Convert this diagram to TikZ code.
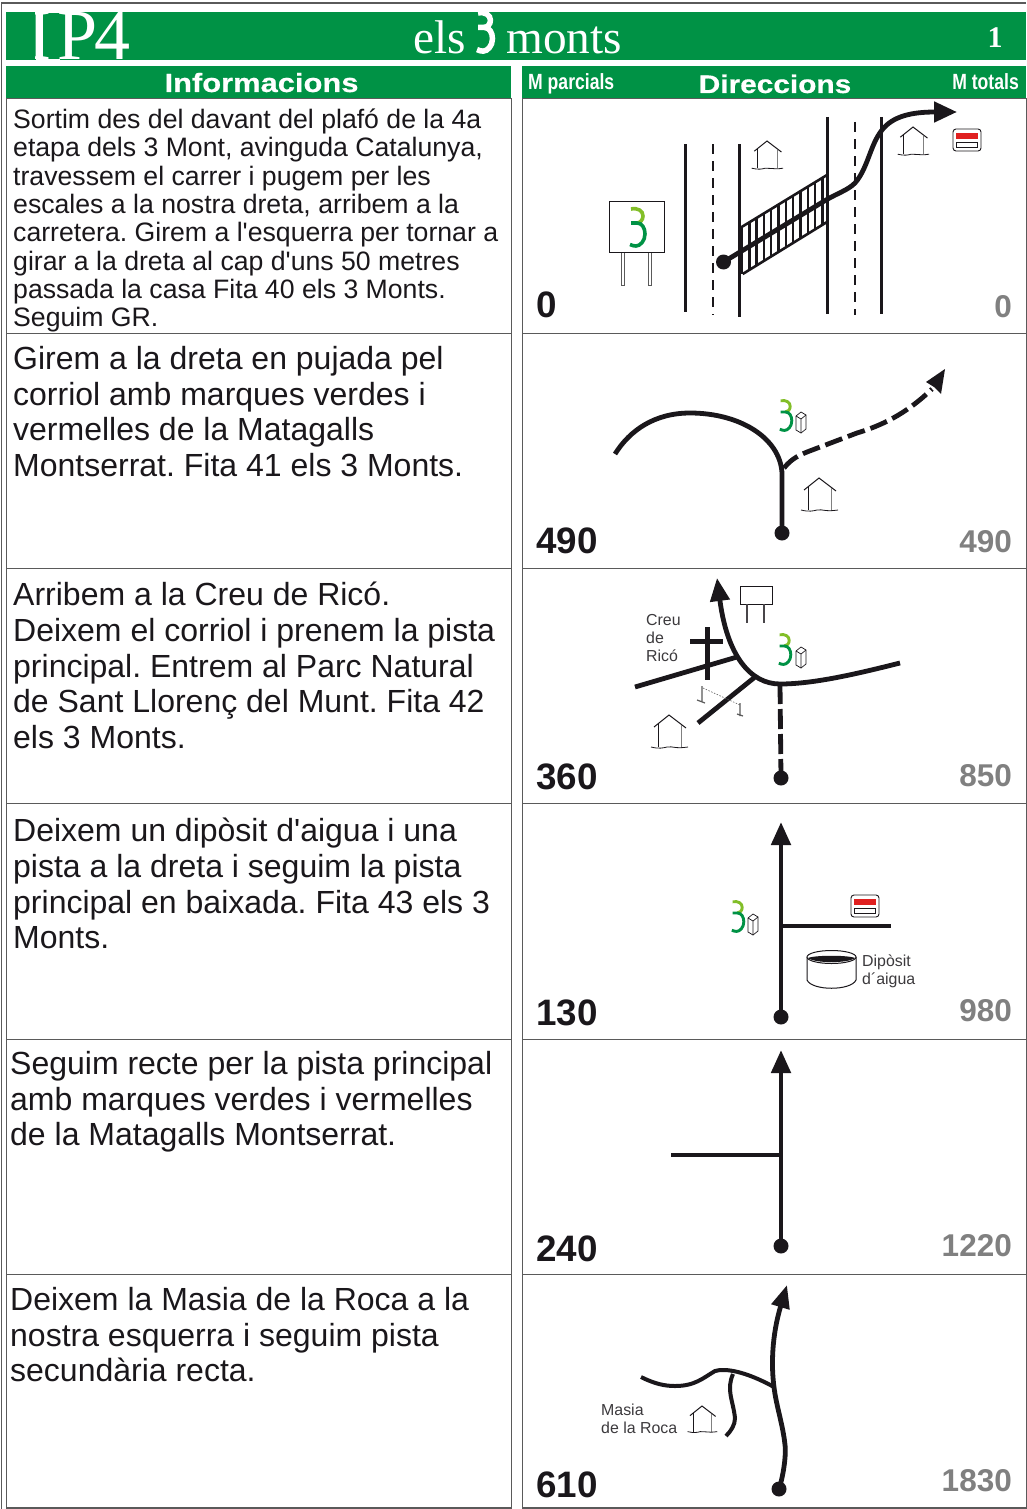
\documentclass[tikz,border=0pt]{standalone}
\usepackage{fontspec}
\usetikzlibrary{arrows.meta}
\setmainfont{Liberation Sans}
\newfontfamily\plainsans{Liberation Sans}
\newfontfamily\titlefont{Liberation Serif}
\newfontfamily\narrowbold[FakeStretch=0.8]{Liberation Sans Bold}
\newfontfamily\widebold[FakeStretch=1.17,FakeBold=0.6]{Liberation Sans Bold}
\newfontfamily\plainbold{Liberation Sans Bold}
\newcommand{\apos}{{\plainsans\char39\relax}}
\frenchspacing
\definecolor{bandgreen}{RGB}{0,146,69}
\definecolor{inkblack}{RGB}{26,23,27}
\definecolor{lightgreen}{RGB}{130,190,40}
\definecolor{markred}{RGB}{224,32,32}
\definecolor{frameg}{RGB}{90,90,90}
\tikzset{
  x=1pt,y=-1pt,
  band/.style={fill=bandgreen,draw=none},
  cell/.style={draw=frameg,line width=0.9pt},
  smalltext/.style={anchor=north west,inner sep=0,align=left,font=\fontsize{26.65}{28.3}\selectfont,text=inkblack},
  bigtext/.style={anchor=north west,inner sep=0,align=left,font=\fontsize{32}{35.7}\selectfont,text=inkblack},
  parcial/.style={anchor=base west,inner sep=0,font=\fontsize{36.8}{36.8}\plainbold,text=inkblack},
  total/.style={anchor=base east,inner sep=0,font=\fontsize{31.5}{31.5}\plainbold,text=black!50},
  head/.style={anchor=base,inner sep=0,font=\fontsize{25.5}{25.5}\widebold,text=white},
  headsmall/.style={anchor=base,inner sep=0,font=\fontsize{22}{22}\narrowbold,text=white},
  tiny/.style={anchor=north west,inner sep=0,align=left,font=\fontsize{15.9}{18}\selectfont,text=inkblack!85},
  road/.style={draw=inkblack,line width=4.8pt},
  thinroad/.style={draw=inkblack,line width=4pt},
  lane/.style={draw=inkblack,line width=3pt},
  dashlane/.style={draw=inkblack,line width=2.8pt,dash pattern=on 10pt off 7pt},
  rail/.style={draw=inkblack,line width=2.6pt},
  arrowroad/.style={road,-{Triangle[length=23pt,width=20pt]}},
  dot/.style={circle,fill=inkblack,draw=none,inner sep=0,minimum size=15pt},
  pics/house/.style={code={
    \draw[inkblack,line width=1pt] (-15,12) -- (0,0) -- (17,13);
    \draw[inkblack,line width=0.9pt] (-11,9) -- (-11,32);
    \draw[black!50,line width=1pt] (12,10) -- (12,32);
    \draw[inkblack,line width=0.8pt] (-18,32) .. controls (-10,34) and (-6,33) .. (-2,32) .. controls (4,31) and (6,34) .. (19,32);
  }},
  pics/marker/.style={code={
    \draw[inkblack,line width=0.9pt,fill=white,rounded corners=3pt] (0,0) rectangle (28,22);
    \fill[markred] (3,4) rectangle (25,10);
    \draw[inkblack,line width=0.8pt,fill=white] (3.5,13) rectangle (24.5,18);
  }},
  pics/fita/.style={code={
    \draw[inkblack,line width=0.7pt,fill=white] (1,5) -- (6,1) -- (11,4) -- (11,18) -- (6,22) -- (1,19) -- cycle;
    \draw[inkblack,line width=0.7pt] (1,5) -- (6,8) -- (11,4) (6,8) -- (6,22);
  }},
  pics/three/.style={code={
    \draw[lightgreen,line width=#1] (2,1) .. controls (9,-0.5) and (14,3) .. (14,8) .. controls (14,12) and (11,15) .. (8,15);
    \draw[bandgreen,line width=#1] (2,15) -- (8,15) .. controls (13,15) and (16,20) .. (16,26) .. controls (16,33) and (11,38) .. (7,38) .. controls (5,38) and (3,37.5) .. (1,36.5);
  }},
  pics/whitethree/.style={code={
    \draw[white,line width=#1] (2,1) .. controls (9,-0.5) and (14,3) .. (14,8) .. controls (14,12) and (11,15) .. (8,15);
    \draw[white,line width=#1] (2,15) -- (8,15) .. controls (13,15) and (16,20) .. (16,26) .. controls (16,33) and (11,38) .. (7,38) .. controls (5,38) and (3,37.5) .. (1,36.5);
  }},
}
\begin{document}
\begin{tikzpicture}
\useasboundingbox (0,0) rectangle (1026,1509);
\fill[white] (0,0) rectangle (1026,1509);
\draw[frameg,line width=1.4pt] (1.5,1509) -- (1.5,3) -- (1026,3);
% bands
\fill[band] (6,12) rectangle (1026,60.5);
\fill[band] (6,66) rectangle (511,98);
\fill[band] (522,66) rectangle (1026,98);
\node[anchor=base west,inner sep=0,font=\fontsize{72}{72}\titlefont,text=white] (ip) at (27.5,60) {I\kern5.5pt P\kern-2.5pt 4};
\fill[band] (6,12) rectangle (35,60.5);
\fill[white] (35.5,12) rectangle (43,60.5);
\fill[white] (43,12) rectangle (60,13.5);
\fill[white] (43,58.7) rectangle (60,60.5);
\node[anchor=base west,inner sep=0,font=\fontsize{47.3}{47}\titlefont,text=white] (els) at (413,54) {els};
\pic[scale=1.03] at (476,12) {whitethree={5.5pt}};
\node[anchor=base west,inner sep=0,font=\fontsize{47.3}{47}\titlefont,text=white] (monts) at (506,54) {monts};
\node[anchor=base,inner sep=0,font=\fontsize{30}{30}\titlefont\bfseries,text=white] (num) at (995,48) {1};
\node[head,font=\fontsize{26.4}{26.4}\widebold] (hinfo) at (261.5,92) {Informacions};
\node[head] (hdir) at (775,93) {Direccions};
\node[headsmall,anchor=base west] (hmp) at (528,90) {M parcials};
\node[headsmall,anchor=base east] (hmt) at (1019,90) {M totals};
% table
\foreach \ya/\yb in {98/333,333/568,568/803,803/1039,1039/1274,1274/1508}{
  \draw[cell] (6,\ya) rectangle (511,\yb);
  \draw[cell] (522.5,\ya) rectangle (1026,\yb);
}
\draw[frameg,line width=1.6pt] (6,1508) -- (511,1508) (522.5,1508) -- (1026,1508);
% texts
\node[smalltext] (t1) at (13,108.7) {Sortim des del davant del plafó de la 4a\\etapa dels 3 Mont, avinguda Catalunya,\\travessem el carrer i pugem per les\\escales a la nostra dreta, arribem a la\\carretera. Girem a l\apos esquerra per tornar a\\girar a la dreta al cap d\apos uns 50 metres\\passada la casa Fita 40 els 3 Monts.\\Seguim GR.};
\node[bigtext] (t2) at (13,346) {Girem a la dreta en pujada pel\\corriol amb marques verdes i\\vermelles de la Matagalls\\Montserrat. Fita 41 els 3 Monts.};
\node[bigtext] (t3) at (13,582) {Arribem a la Creu de Ricó.\\Deixem el corriol i prenem la pista\\principal. Entrem al Parc Natural\\de Sant Llorenç del Munt. Fita 42\\els 3 Monts.};
\node[bigtext] (t4) at (13,818) {Deixem un dipòsit d\apos aigua i una\\pista a la dreta i seguim la pista\\principal en baixada. Fita 43 els 3\\Monts.};
\node[bigtext] (t5) at (10,1051) {Seguim recte per la pista principal\\amb marques verdes i vermelles\\de la Matagalls Montserrat.};
\node[bigtext] (t6) at (10,1287) {Deixem la Masia de la Roca a la\\nostra esquerra i seguim pista\\secundària recta.};
% numbers
\node[parcial] (p1) at (536,317) {0};
\node[parcial] (p2) at (536,553.5) {490};
\node[parcial] (p3) at (536,789.5) {360};
\node[parcial] (p4) at (536,1025.5) {130};
\node[parcial] (p5) at (536,1261.5) {240};
\node[parcial] (p6) at (536,1497.5) {610};
\node[total] (m1) at (1012,317) {0};
\node[total] (m2) at (1012,552) {490};
\node[total] (m3) at (1012,786) {850};
\node[total] (m4) at (1012,1021) {980};
\node[total] (m5) at (1012,1256) {1220};
\node[total] (m6) at (1012,1491) {1830};
% ---------- row 1
\draw[lane] (685,144) -- (685,312);
\draw[dashlane] (713,144) -- (713,315);
\draw[lane] (739.5,144) -- (739.5,317);
\draw[lane] (827,117) -- (827,314);
\draw[dashlane] (855,122) -- (855,315);
\draw[lane] (881.5,117) -- (881.5,314);
\draw[rail] (740,228) -- (827,175);
\draw[rail] (742.7,274) -- (827,222);
\foreach \k in {0,...,11}{
  \pgfmathsetmacro{\xa}{742+\k*7.3}
  \pgfmathsetmacro{\yu}{228-(\xa-740)*0.609}
  \pgfmathsetmacro{\yl}{274-(\xa-742.7)*0.617}
  \draw[inkblack,line width=2.4pt] (\xa,\yu) -- (\xa,\yl);
}
\node[dot] (d1) at (723.5,262) {};
\coordinate (a1) at (957,112);
\draw[arrowroad] (d1.center) -- (826,200) .. controls (838,193) and (848,190) .. (855,183) .. controls (868,168) and (870,145) .. (882,130) .. controls (893,116) and (912,112) .. (a1);
\pic[scale=0.85] at (767,141) {house};
\pic[scale=0.85] at (913,127) {house};
\pic at (953,129) {marker};
\draw[inkblack,line width=1pt,fill=white] (609,201.5) rectangle (664.5,252.5);
\draw[frameg,line width=0.8pt] (621,253) -- (621,285) -- (624,285) -- (624,253);
\draw[frameg,line width=0.8pt] (648,253) -- (648,285) -- (651.5,285) -- (651.5,253);
\pic at (629,208) {three={3.6pt}};
% ---------- row 2
\node[dot] (d2) at (782,533) {};
\coordinate (e2) at (615,454);
\draw[road] (d2.center) -- (782,473) .. controls (780,438) and (740,413) .. (690,413) .. controls (655,413) and (630,430) .. (e2);
\coordinate (s2) at (784,468);
\coordinate (a2) at (945,369);
\draw[road,dash pattern=on 18pt off 6pt] (s2) .. controls (792,458) and (800,455) .. (807,452) -- (857,433) .. controls (880,426) and (905,415) .. (932,389);
\fill[inkblack] (a2) -- (941,394) -- (934,387) -- (926,382) -- cycle;
\pic[scale=0.8] at (779,400) {three={2.9pt}};
\pic at (795,411) {fita};
\pic at (819,478) {house};
% ---------- row 3
\node[dot] (d3) at (781,778) {};
\coordinate (a3) at (717,578);
\coordinate (e3) at (900,663);
\coordinate (j3a) at (737,657);
\coordinate (j3b) at (755,677);
\coordinate (j3c) at (780,684);
\draw[road,-{Triangle[length=23pt,width=19pt]}] (e3) .. controls (860,673) and (815,684) .. (j3c) .. controls (750,684) and (727,655) .. (a3);
\draw[road] (635,687) -- (j3a);
\draw[road] (698,723) -- (j3b);
\draw[road,dash pattern=on 20pt off 5pt] (j3c) -- (d3.center);
\draw[inkblack,line width=5pt] (707,627) -- (707,680);
\draw[inkblack,line width=5pt] (690,641) -- (723,641);
\node[tiny] (creu) at (646,614) {Creu\\de\\Ricó};
\draw[inkblack,line width=1pt,fill=white] (740,586) rectangle (772,604);
\draw[inkblack!80,line width=1.5pt] (747,604) -- (747,623);
\draw[inkblack!80,line width=1.5pt] (764,604) -- (764,623);
\pic[scale=0.8] at (778,634) {three={2.9pt}};
\pic at (795,646) {fita};
\draw[frameg,line width=0.6pt,dash pattern=on 1.5pt off 1.5pt] (703,688) -- (740,705);
\draw[frameg,line width=1.2pt] (702,686) -- (702,702) (697,700) -- (705,703);
\draw[frameg,line width=1.2pt] (740,703) -- (740,716) (737,714) -- (743,716);
\pic at (669,715) {house};
% ---------- row 4
\node[dot] (d4) at (781,1017) {};
\coordinate (a4) at (781,822);
\draw[road,-{Triangle[length=23pt,width=19pt]}] (d4.center) -- (a4);
\coordinate (b4) at (783,926);
\coordinate (e4) at (891,926);
\draw[road] (b4) -- (e4);
\pic[scale=0.8] at (731,901) {three={2.9pt}};
\pic at (747,913) {fita};
\pic at (851,895) {marker};
\draw[inkblack,line width=1pt,fill=white] (807,957) -- (807,980) .. controls (812,991) and (851,991) .. (856,980) -- (856,957);
\draw[inkblack,line width=1pt,fill=white] (831.5,957) ellipse [x radius=24.5,y radius=6.5];
\fill[inkblack] (808,958) .. controls (815,955) and (848,955) .. (855,958) .. controls (848,963.5) and (815,963.5) .. (808,958) -- cycle;
\node[tiny] (dip) at (862,955) {Dipòsit\\d´aigua};
% ---------- row 5
\node[dot] (d5) at (781,1246) {};
\coordinate (a5) at (781,1050);
\draw[road,-{Triangle[length=23pt,width=19pt]}] (d5.center) -- (a5);
\coordinate (b5) at (781,1155);
\coordinate (e5) at (671,1155);
\draw[road] (b5) -- (e5);
% ---------- row 6
\node[dot] (d6) at (779,1489) {};
\coordinate (a6) at (787,1285);
\coordinate (j6) at (774,1387);
\draw[road,-{Triangle[length=23pt,width=18pt]}] (d6.center) .. controls (785,1470) and (786,1450) .. (785,1445) .. controls (783,1425) and (776,1405) .. (j6) .. controls (771,1365) and (772,1335) .. (a6);
\coordinate (e6) at (641,1377);
\draw[thinroad] (e6) .. controls (655,1384) and (665,1386) .. (675,1386) .. controls (695,1386) and (703,1378) .. (715,1371) .. controls (725,1368) and (745,1371) .. (j6);
\coordinate (b6) at (733,1374);
\coordinate (f6) at (726,1436);
\draw[thinroad] (b6) .. controls (726,1390) and (733,1400) .. (735,1418) .. controls (735,1425) and (731,1431) .. (f6);
\node[tiny] (masia) at (601,1404) {Masia\\de la Roca};
\pic[scale=0.8] at (702,1406) {house};
\end{tikzpicture}
\end{document}
